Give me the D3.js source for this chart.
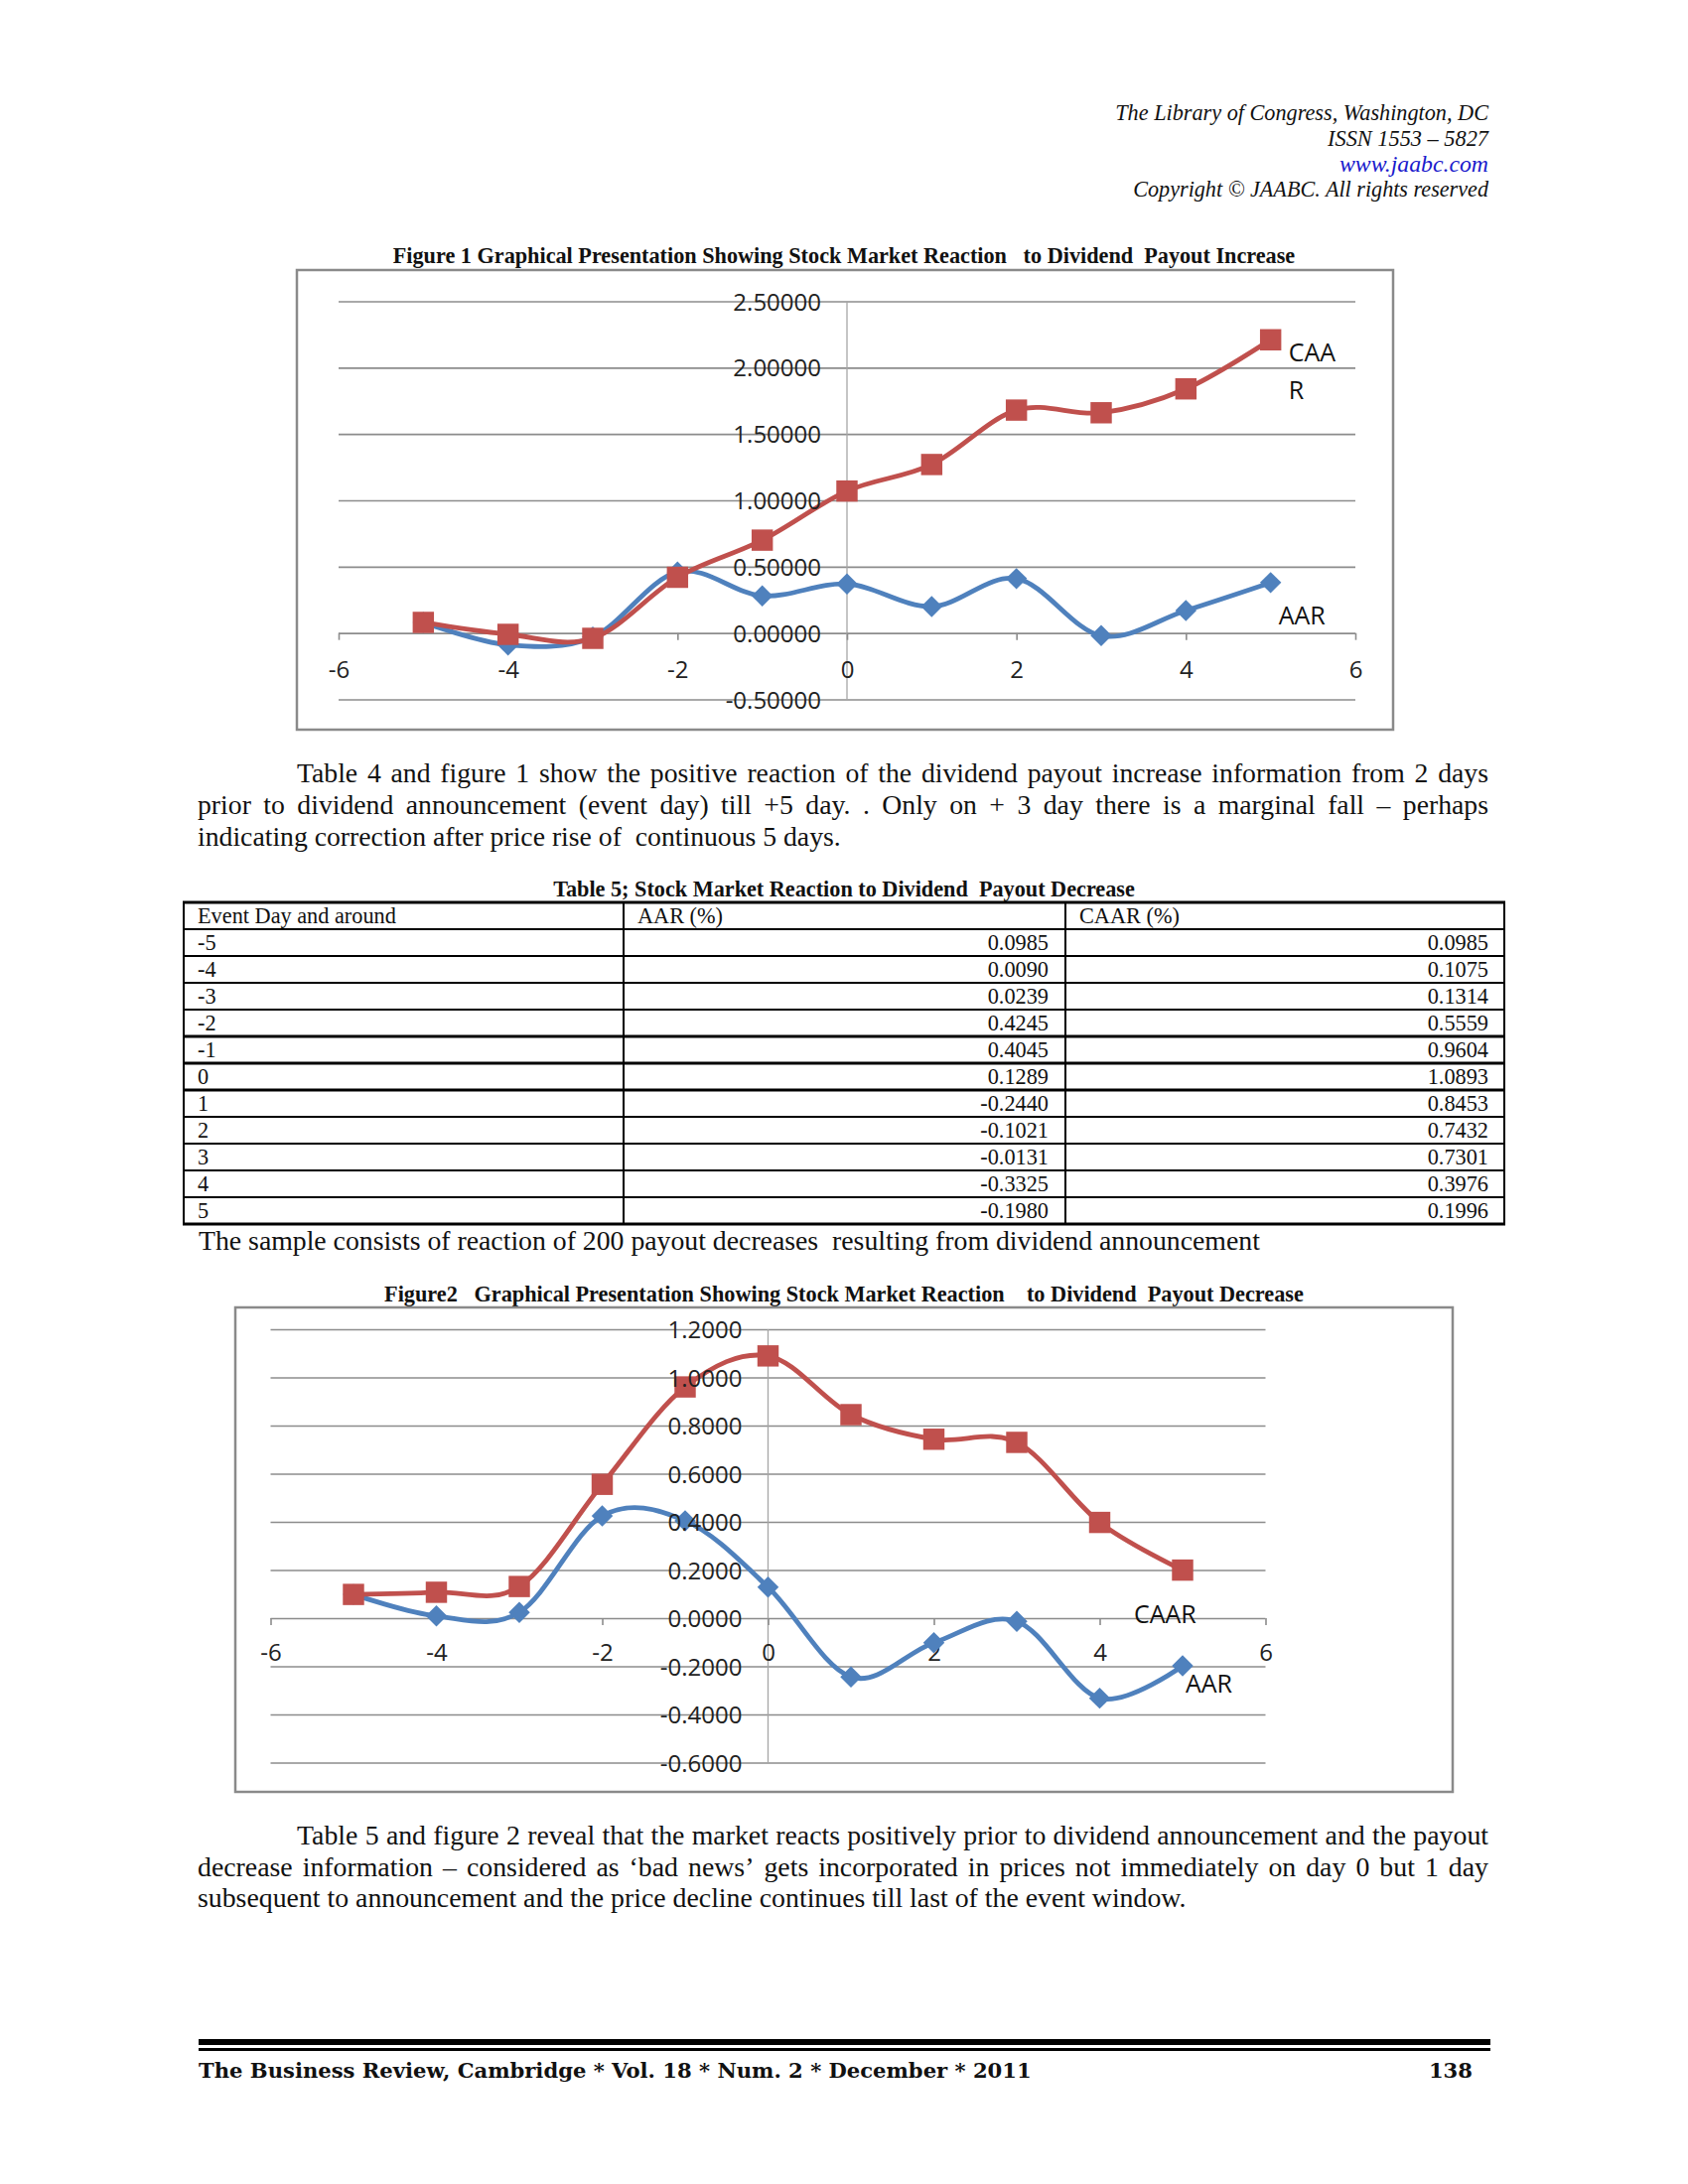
<!DOCTYPE html>
<html><head><meta charset="utf-8">
<script src="https://cdn.jsdelivr.net/npm/d3@7"></script>
<style>body{margin:0;background:#fff} text{white-space:pre}</style>
</head><body>
<svg id="page" width="1700" height="2200" xmlns="http://www.w3.org/2000/svg"></svg>
<script>
// ---------------- DATA ----------------
const days = [-5,-4,-3,-2,-1,0,1,2,3,4,5];
// Figure 1 (payout increase)
const incAAR  = [0.08,-0.09,-0.03,0.46,0.28,0.37,0.20,0.41,-0.02,0.17,0.38];
const incCAAR = [0.08,-0.01,-0.04,0.42,0.70,1.07,1.27,1.68,1.66,1.84,2.21];
// Table 5 / Figure 2 (payout decrease)
const decAAR  = [0.0985,0.0090,0.0239,0.4245,0.4045,0.1289,-0.2440,-0.1021,-0.0131,-0.3325,-0.1980];
const decCAAR = [0.0985,0.1075,0.1314,0.5559,0.9604,1.0893,0.8453,0.7432,0.7301,0.3976,0.1996];
const xTicks = [-6,-4,-2,0,2,4,6];
const fig1YTicks = [-0.5,0,0.5,1,1.5,2,2.5];
const fig2YTicks = [-0.6,-0.4,-0.2,0,0.2,0.4,0.6,0.8,1.0,1.2];
const tableHeader = ["Event Day and around","AAR (%)","CAAR (%)"];

const headerLines = ["The Library of Congress, Washington, DC","ISSN 1553 \u2013 5827","www.jaabc.com","Copyright \u00a9 JAABC. All rights reserved"];
const fig1Title = "Figure 1 Graphical Presentation Showing Stock Market Reaction   to Dividend  Payout Increase";
const table5Title = "Table 5; Stock Market Reaction to Dividend  Payout Decrease";
const fig2Title = "Figure2   Graphical Presentation Showing Stock Market Reaction    to Dividend  Payout Decrease";
const para1 = ["Table 4 and figure 1 show the positive reaction of the dividend payout increase information from 2 days",
 "prior to dividend announcement (event day) till +5 day. . Only on  + 3  day there is a marginal fall \u2013 perhaps",
 "indicating correction after price rise of  continuous 5 days."];
const caption = "The sample consists of reaction of 200 payout decreases  resulting from dividend announcement";
const para2 = ["Table 5 and figure 2 reveal that the market reacts positively prior to dividend announcement and the payout",
 "decrease information \u2013 considered as \u2018bad news\u2019 gets incorporated in prices not immediately on day 0 but 1 day",
 "subsequent to announcement and the price decline continues till last of the event window."];
const footerText = "The Business Review, Cambridge * Vol. 18 * Num. 2 * December * 2011";
const pageNo = "138";

// ---------------- HELPERS ----------------
const svg = d3.select("#page");
svg.append("rect").attr("width",1700).attr("height",2200).attr("fill","#fff");
const SERIF = "'Liberation Serif','Times New Roman',serif";
const SANS = "'Open Sans','Noto Sans',sans-serif";
const hy = s => s.replace(/\u2212/g,"-");

function fitText(sel, w){
  const fs = parseFloat(sel.attr("font-size"));
  const cw = sel.node().getComputedTextLength();
  sel.attr("font-size", fs*w/cw);
  return sel;
}
function measure(str, fs, family, weight){
  const t = svg.append("text").attr("font-size",fs).attr("font-family",family).attr("font-weight",weight||"normal").text(str);
  const w = t.node().getComputedTextLength(); t.remove(); return w;
}
function justifyLine(g, str, x0, x1, y, fs, justify){
  const words = str.split(/ +/);
  if(!justify){
    g.append("text").attr("x",x0).attr("y",y).attr("dy","0.33em").attr("font-size",fs).attr("font-family",SERIF).attr("fill","#111").text(str);
    return;
  }
  const ws = words.map(w=>measure(w,fs,SERIF));
  const total = d3.sum(ws);
  const gap = (x1-x0-total)/(words.length-1);
  let cx = x0;
  words.forEach((w,i)=>{
    g.append("text").attr("x",cx).attr("y",y).attr("dy","0.33em").attr("font-size",fs).attr("font-family",SERIF).attr("fill","#111").text(w);
    cx += ws[i]+gap;
  });
}
function paragraph(lines, ys, lastWidth){
  const g = svg.append("g");
  const fs = 20*lastWidth/measure(lines[2],20,SERIF);
  justifyLine(g, lines[0], 299, 1499, ys[0], fs, true);
  justifyLine(g, lines[1], 199, 1499, ys[1], fs, true);
  justifyLine(g, lines[2], 199, 1499, ys[2], fs, false);
}

// ---------------- HEADER ----------------
const hdrY = [113.6,139.2,165.2,190.8];
const hdrW = [376, 162, 150, 358];
headerLines.forEach((s,i)=>{
  const t = svg.append("text").attr("x",1499).attr("y",hdrY[i]).attr("dy","0.33em").attr("text-anchor","end")
    .attr("font-family",SERIF).attr("font-style","italic").attr("font-size",20)
    .attr("fill", i===2 ? "#1a1acc" : "#111").text(s);
  fitText(t, hdrW[i]);
});

// ---------------- CHART ----------------
function chart(o){
  const g = svg.append("g");
  const x = d3.scaleLinear().domain([-6,6]).range(o.xRange);
  const y = d3.scaleLinear().domain(o.yDomain).range(o.yRange);
  // title
  const tt = g.append("text").attr("x",o.titleX).attr("y",o.titleY).attr("dy","0.33em").attr("text-anchor","middle")
    .attr("font-family",SERIF).attr("font-weight","bold").attr("font-size",20).attr("fill","#111").text(o.title);
  fitText(tt, o.titleW);
  // border
  g.append("rect").attr("x",o.box[0]).attr("y",o.box[1]).attr("width",o.box[2]-o.box[0]).attr("height",o.box[3]-o.box[1])
    .attr("fill","none").attr("stroke","#8a8a8a").attr("stroke-width",2.5);
  // gridlines
  const grid = d3.axisLeft(y).tickValues(o.yTicks).tickSize(-(o.xRange[1]-o.xRange[0])).tickFormat("");
  g.append("g").attr("transform",`translate(${o.xRange[0]},0)`).call(grid)
    .call(s=>{s.select(".domain").remove(); s.selectAll("line").attr("stroke","#8c8c8c").attr("stroke-width",1.6);});
  // vertical axis
  g.append("line").attr("x1",x(0)).attr("x2",x(0)).attr("y1",y(o.yDomain[1])).attr("y2",y(o.yDomain[0]))
    .attr("stroke","#a6a6a6").attr("stroke-width",1.3);
  // x axis ticks + labels
  const xa = g.append("g").attr("transform",`translate(0,${y(0)})`)
    .call(d3.axisBottom(x).tickValues(xTicks).tickSize(7).tickFormat(d=>String(d)));
  xa.select(".domain").remove();
  xa.selectAll("line").attr("stroke","#8c8c8c").attr("stroke-width",1.6);
  xa.selectAll("text").attr("y",o.xLabOff).attr("dy","0.35em").attr("font-family",SANS).attr("font-size",24).attr("fill","#222");
  // series
  const line = d3.line().x((d,i)=>x(days[i])).y(d=>y(d)).curve(d3.curveCardinal.tension(0));
  g.append("path").attr("d",line(o.aar)).attr("fill","none").attr("stroke","#4F81BD").attr("stroke-width",4.8).attr("stroke-linejoin","round");
  g.selectAll(".dia").data(o.aar).enter().append("path")
    .attr("d",d3.symbol(d3.symbolSquare,230)())
    .attr("transform",(d,i)=>`translate(${x(days[i])},${y(d)}) rotate(45)`).attr("fill","#4F81BD");
  g.append("path").attr("d",line(o.caar)).attr("fill","none").attr("stroke","#C0504D").attr("stroke-width",4.8).attr("stroke-linejoin","round");
  g.selectAll(".sq").data(o.caar).enter().append("path")
    .attr("d",d3.symbol(d3.symbolSquare,460)())
    .attr("transform",(d,i)=>`translate(${x(days[i])},${y(d)})`).attr("fill","#C0504D");
  // y labels on top
  const ya = g.append("g").attr("transform",`translate(${x(0)},0)`)
    .call(d3.axisLeft(y).tickValues(o.yTicks).tickSize(0).tickPadding(26).tickFormat(d=>hy(d3.format(o.yFmt)(d))));
  ya.select(".domain").remove();
  ya.selectAll("text").attr("font-family",SANS).attr("font-size",24).attr("fill","#222").attr("dy","0.36em");
  // series labels
  o.labels.forEach(l=>{
    g.append("text").attr("x",x(5)+l.dx).attr("y",y(l.v)+l.dy).attr("font-family",SANS).attr("font-size",25).attr("fill","#111").text(l.t);
  });
}

chart({
  title: fig1Title, titleX: 850, titleY: 258, titleW: 909,
  box: [299,272,1403,735],
  xRange: [341,1365], yDomain: [-0.5,2.5], yRange: [704.5,303.5],
  yTicks: fig1YTicks, yFmt: ".5f", xLabOff: 37,
  aar: incAAR, caar: incCAAR,
  labels: [{t:"CAA",v:incCAAR[10],dx:18,dy:22},{t:"R",v:incCAAR[10],dx:18,dy:60},{t:"AAR",v:incAAR[10],dx:8,dy:42}]
});

// ---------------- PARAGRAPH 1 ----------------
paragraph(para1, [778.5,810.7,843], 648);

// ---------------- TABLE 5 ----------------
{
  const g = svg.append("g");
  const tt = g.append("text").attr("x",850).attr("y",896).attr("dy","0.33em").attr("text-anchor","middle")
    .attr("font-family",SERIF).attr("font-weight","bold").attr("font-size",20).attr("fill","#111").text(table5Title);
  fitText(tt, 586);
  const colX = [185,628,1073,1515];
  const top = 909, rh = 27;
  const rows = days.map((d,i)=>[String(d), hy(d3.format(".4f")(decAAR[i])), hy(d3.format(".4f")(decCAAR[i]))]);
  const rowY = d3.range(13).map(i=>top+i*rh);
  const thick = new Set([0,5,6,7,12]);
  rowY.forEach((yy,i)=>{
    g.append("line").attr("x1",colX[0]-1).attr("x2",colX[3]+1).attr("y1",yy).attr("y2",yy).attr("stroke","#000").attr("stroke-width",thick.has(i)?3:2);
  });
  colX.forEach(xx=>{
    g.append("line").attr("x1",xx).attr("x2",xx).attr("y1",top).attr("y2",top+12*rh).attr("stroke","#000").attr("stroke-width",2);
  });
  const fs = 20*200/measure(tableHeader[0],20,SERIF);
  tableHeader.forEach((h,j)=>{
    g.append("text").attr("x",colX[j]+14).attr("y",top+rh/2).attr("dy","0.33em").attr("font-family",SERIF).attr("font-size",fs).attr("fill","#111").text(h);
  });
  rows.forEach((r,i)=>{
    const cy = top+(i+1)*rh+rh/2;
    g.append("text").attr("x",colX[0]+14).attr("y",cy).attr("dy","0.33em").attr("font-family",SERIF).attr("font-size",fs).attr("fill","#111").text(r[0]);
    g.append("text").attr("x",colX[2]-17).attr("y",cy).attr("dy","0.33em").attr("text-anchor","end").attr("font-family",SERIF).attr("font-size",fs).attr("fill","#111").text(r[1]);
    g.append("text").attr("x",colX[3]-16).attr("y",cy).attr("dy","0.33em").attr("text-anchor","end").attr("font-family",SERIF).attr("font-size",fs).attr("fill","#111").text(r[2]);
  });
  const cap = g.append("text").attr("x",200).attr("y",1250).attr("dy","0.33em").attr("font-family",SERIF).attr("font-size",20).attr("fill","#111").text(caption);
  fitText(cap, 1069);
}

chart({
  title: fig2Title, titleX: 850, titleY: 1304, titleW: 926,
  box: [237,1317,1463,1805],
  xRange: [272.5,1274.5], yDomain: [-0.6,1.2], yRange: [1775.5,1339],
  yTicks: fig2YTicks, yFmt: ".4f", xLabOff: 35,
  aar: decAAR, caar: decCAAR,
  labels: [{t:"CAAR",v:decCAAR[10],dx:-49,dy:53},{t:"AAR",v:decAAR[10],dx:3,dy:27}]
});

// ---------------- PARAGRAPH 2 ----------------
paragraph(para2, [1848.6,1881,1912], 996);

// ---------------- FOOTER ----------------
svg.append("rect").attr("x",200).attr("y",2054).attr("width",1301).attr("height",6).attr("fill","#000");
svg.append("rect").attr("x",200).attr("y",2063).attr("width",1301).attr("height",3).attr("fill","#000");
const ft = svg.append("text").attr("x",200).attr("y",2086).attr("dy","0.33em").attr("font-family","'DejaVu Serif',serif").attr("font-weight","bold").attr("font-size",20).attr("fill","#111").text(footerText);
fitText(ft, 839);
svg.append("text").attr("x",1483).attr("y",2086).attr("dy","0.33em").attr("text-anchor","end").attr("font-family","'DejaVu Serif',serif").attr("font-weight","bold").attr("font-size",ft.attr("font-size")).attr("fill","#111").text(pageNo);
</script>
</body></html>
